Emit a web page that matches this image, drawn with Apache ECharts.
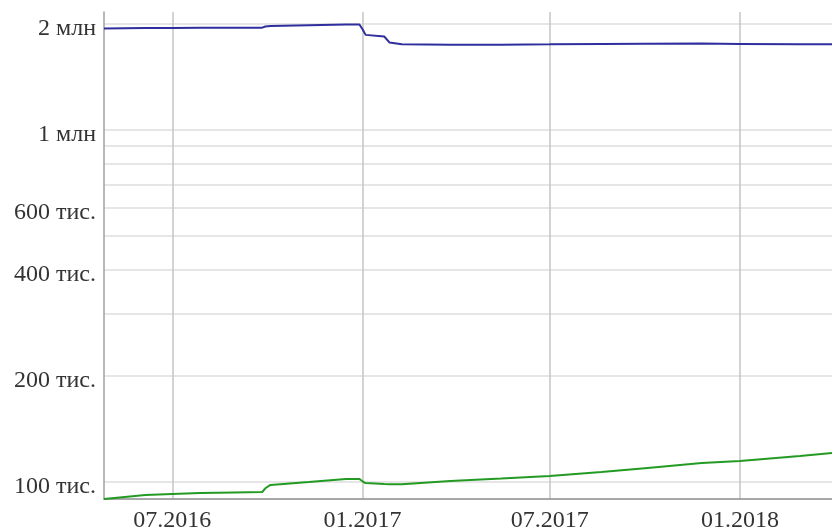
<!DOCTYPE html>
<html>
<head>
<meta charset="utf-8">
<script src="https://cdn.jsdelivr.net/npm/echarts@6/dist/echarts.min.js"></script>
<style>
  html, body { margin: 0; padding: 0; background: #fff; }
  #chart { width: 832px; height: 531px; }
</style>
</head>
<body>
<div id="chart"></div>
<script>
// dates shared by both lines
const dates = [
  '2016-04-26', '2016-06-05', '2016-07-01', '2016-07-28', '2016-08-30',
  '2016-09-26', '2016-09-29', '2016-10-04', '2016-11-10', '2016-12-16',
  '2016-12-29', '2017-01-01', '2017-01-04', '2017-01-22', '2017-01-27',
  '2017-02-08', '2017-03-27', '2017-05-15', '2017-07-01', '2017-08-20',
  '2017-10-01', '2017-11-25', '2018-01-01', '2018-02-28', '2018-03-31'
];
const blueValues = [
  1940000, 1945000, 1947000, 1948000, 1950000,
  1950000, 1965000, 1970000, 1980000, 1990000,
  1990000, 1930000, 1860000, 1840000, 1770000,
  1750000, 1745000, 1745000, 1748000, 1752000,
  1755000, 1757000, 1753000, 1748000, 1748000
];
const greenValues = [
  89500, 91900, 92500, 93100, 93400,
  93700, 96000, 98100, 100000, 102000,
  102000, 100500, 99300, 98700, 98600,
  98500, 100700, 102300, 104000, 106800,
  109500, 113200, 114800, 118600, 120900
];
const xTickDates = ['2016-07-01', '2017-01-01', '2017-07-01', '2018-01-01'];
const yGridValues = [100000, 200000, 300000, 400000, 500000, 600000, 700000, 800000, 900000, 1000000, 2000000];
const yLabelValues = [100000, 200000, 400000, 600000, 1000000, 2000000];

const chart = echarts.init(document.getElementById('chart'));

function fmtY(v) {
  let s;
  if (v >= 1000000) s = Math.round(v / 1000000) + ' млн';
  else s = Math.round(v / 1000) + ' тис.';
  return '{t|' + s + '}';
}
function fmtX(v) {
  const d = new Date(v);
  const m = d.getMonth() + 1;
  return (m < 10 ? '0' + m : m) + '.' + d.getFullYear();
}
const toTime = s => new Date(s + 'T00:00:00').getTime();

const option = {
  animation: false,
  grid: { left: 104, top: 12, right: 0, bottom: 32, containLabel: false, outerBoundsMode: 'none' },
  xAxis: {
    // timestamps on a value axis so the ticks can sit on the month starts
    type: 'value',
    min: toTime('2016-04-26'),
    max: toTime('2018-03-31'),
    axisLine: { show: true, lineStyle: { color: '#8c8c8c', width: 1.5 } },
    axisTick: { show: false, customValues: xTickDates.map(toTime) },
    axisLabel: {
      customValues: xTickDates.map(toTime),
      formatter: fmtX,
      color: '#333',
      fontFamily: 'Liberation Serif',
      fontSize: 24,
      margin: 10
    },
    splitLine: { show: true, lineStyle: { color: '#c4c4c4', width: 1.5 } }
  },
  yAxis: {
    type: 'log',
    logBase: 10,
    min: 89500,
    max: 2160000,
    axisLine: { show: true, lineStyle: { color: '#a0a0a0', width: 1.5 } },
    axisTick: { show: false, customValues: yGridValues },
    axisLabel: {
      customValues: yLabelValues,
      formatter: fmtY,
      margin: 8,
      rich: {
        t: {
          color: '#333',
          fontFamily: 'Liberation Serif',
          fontSize: 24,
          padding: [10, 0, 0, 0]
        }
      }
    },
    splitLine: { show: true, lineStyle: { color: '#dedede', width: 1.5 } }
  },
  series: [
    {
      type: 'line',
      showSymbol: false,
      data: dates.map((d, i) => [toTime(d), blueValues[i]]),
      lineStyle: { color: '#2e2e9e', width: 2 },
      itemStyle: { color: '#2e2e9e' }
    },
    {
      type: 'line',
      showSymbol: false,
      data: dates.map((d, i) => [toTime(d), greenValues[i]]),
      lineStyle: { color: '#239b23', width: 2 },
      itemStyle: { color: '#239b23' }
    }
  ]
};
chart.setOption(option);
</script>
</body>
</html>
